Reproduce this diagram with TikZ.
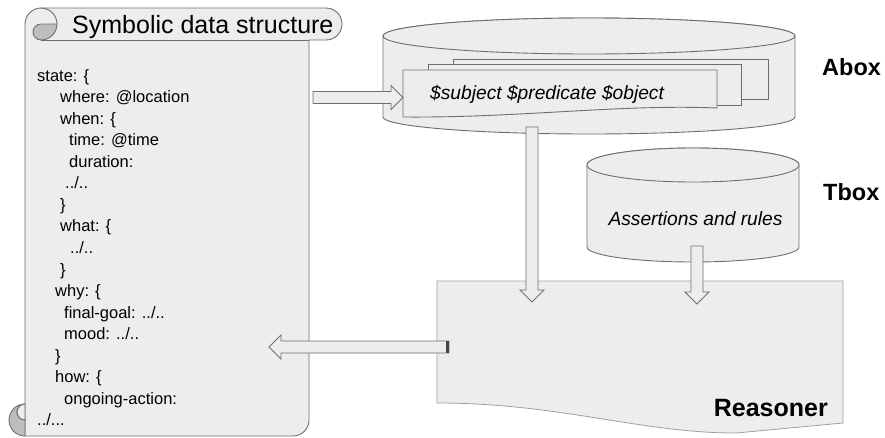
\documentclass[tikz,border=0pt]{standalone}
\usepackage{fontspec}
\setmainfont{Liberation Sans}
\usetikzlibrary{calc,positioning}
\definecolor{paper}{HTML}{EDEDED}
\definecolor{rim}{HTML}{6E6E6E}
\definecolor{curlgray}{HTML}{BDBDBD}
\definecolor{softrim}{HTML}{A0A0A0}
\definecolor{capgray}{HTML}{444444}
\tikzset{
  shell/.style={fill=paper, draw=rim, line width=0.9pt},
  sheet/.style={fill=paper, draw=softrim, line width=0.8pt},
  codeline/.style={anchor=base west, inner sep=0pt, font=\fontsize{16.5}{20}\selectfont},
  tag/.style={inner sep=0pt, font=\fontsize{23.5}{28}\selectfont\bfseries},
  slanted/.style={inner sep=0pt, font=\fontsize{19.2}{23}\selectfont\itshape},
  block arrow/.style={fill=paper, draw=rim, line width=0.8pt,
    to path={($(\tikztotarget)!12pt!(\tikztostart)$) coordinate (fh)
      ($(\tikztostart)!6pt!90:(\tikztotarget)$)
      -- ($(fh)!6pt!-90:(\tikztostart)$) -- ($(fh)!12pt!-90:(\tikztostart)$)
      -- (\tikztotarget)
      -- ($(fh)!12pt!90:(\tikztostart)$) -- ($(fh)!6pt!90:(\tikztostart)$)
      -- ($(\tikztostart)!6pt!-90:(\tikztotarget)$) -- cycle}},
  capbar/.style={draw=capgray, line width=3pt}
}
\begin{document}
\begin{tikzpicture}[x=1pt, y=-1pt]
  \useasboundingbox (0,0) rectangle (885,437);

  % scroll
  \draw[shell] (25,24) -- (25,436) -- (293,436) arc[start angle=90, end angle=0, radius=16]
    -- (309,40) -- (326,40) arc[start angle=90, end angle=-90, radius=16]
    -- (41,8) arc[start angle=270, end angle=180, radius=16] -- cycle;
  \draw[rim, line width=0.9pt] (41,40) -- (309,40);
  \draw[rim, line width=0.9pt] (41,8) arc[start angle=-90, end angle=0, radius=16];
  \draw[shell, fill=curlgray] (57,24) arc[start angle=0, end angle=90, radius=16]
    arc[start angle=90, end angle=270, radius=8] -- cycle;
  \draw[shell, fill=curlgray] (25,404) arc[start angle=270, end angle=90, radius=16]
    -- (25,420) arc[start angle=90, end angle=270, radius=8] -- cycle;
  \draw[shell] (25,404) arc[start angle=270, end angle=90, radius=8] -- cycle;
  \node[anchor=base west, inner sep=0pt, font=\fontsize{25}{30}\selectfont] (title) at (72,33) {Symbolic data structure};
  \foreach \ind/\txt [count=\i from 0] in {0/{state: \{}, 23/{where: @location}, 23/{when: \{},
      32/{time: @time}, 32/{duration:}, 28/{../..}, 23/{\}}, 23/{what: \{}, 33/{../..}, 23/{\}},
      18/{why: \{}, 27/{final-goal: ../..}, 27/{mood: ../..}, 18/{\}}, 18/{how: \{},
      27/{ongoing-action:}, 0/{../...}}
    \node[codeline] (line\i) at (37+\ind, 81+21.56*\i) {\txt};

  % Abox
  \draw[shell] (383,36) -- (383,117) arc[start angle=180, end angle=0, x radius=206, y radius=17]
    -- (795,36) arc[start angle=0, end angle=-180, x radius=206, y radius=18] -- cycle;
  \draw[shell] (589,36) ellipse[x radius=206, y radius=18];
  \draw[shell] (453,59) rectangle (768,99);
  \draw[shell] (428,64) rectangle (741,105);
  \draw[shell] (403,70) -- (717,70) -- (717,108) .. controls (620,104) and (520,118) .. (403,117) -- cycle;
  \node[slanted, anchor=base west] (triples) at (430,99.5) {\$subject \$predicate \$object};
  \node[tag, anchor=base west] (abox) at (822,75) {Abox};

  % Tbox
  \draw[shell] (587,165) -- (587,247) arc[start angle=180, end angle=0, x radius=106, y radius=15]
    -- (799,165) arc[start angle=0, end angle=-180, x radius=106, y radius=17] -- cycle;
  \draw[shell] (693,165) ellipse[x radius=106, y radius=17];
  \node[slanted, anchor=base] (assert) at (695.5,225) {Assertions and rules};
  \node[tag, anchor=base west] (tbox) at (823,200) {Tbox};

  % Reasoner
  \draw[sheet] (437,281) -- (843,281) -- (843,423) -- (736,433)
    .. controls (640,433) and (560,403) .. (437,403) -- cycle;
  \node[tag, anchor=base east, font=\fontsize{25}{30}\selectfont\bfseries] (reasoner) at (828,416) {Reasoner};

  \coordinate (codeout) at (313,97.5);
  \coordinate (cardin) at (403,97.5);
  \coordinate (aboxout) at (532,127);
  \coordinate (reasonin1) at (532,302);
  \coordinate (tboxout) at (697,246);
  \coordinate (reasonin2) at (697,304);
  \coordinate (reasonout) at (449,347);
  \coordinate (codein) at (269,347);

  \draw[block arrow] (codeout) to (cardin);
  \draw[block arrow] (aboxout) to (reasonin1);
  \draw[block arrow] (tboxout) to (reasonin2);
  \draw[block arrow] (reasonout) to (codein);
  \draw[capbar] ($(reasonout)+(-2,-6)$) -- ($(reasonout)+(-2,6)$);
\end{tikzpicture}
\end{document}
